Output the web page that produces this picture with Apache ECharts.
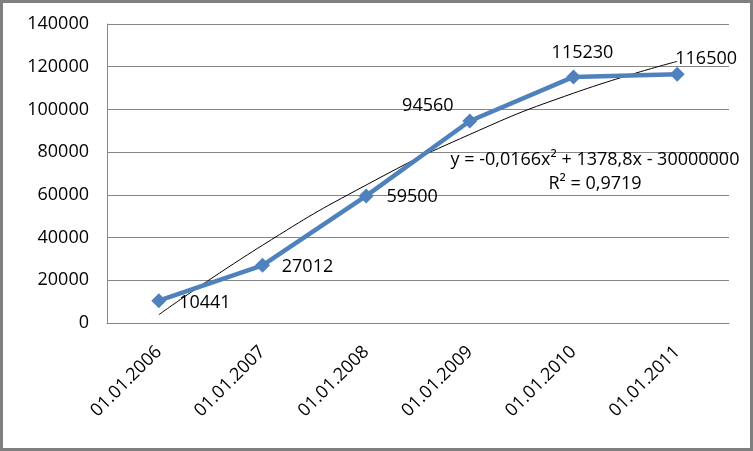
<!DOCTYPE html>
<html>
<head>
<meta charset="utf-8">
<script src="https://cdn.jsdelivr.net/npm/echarts@6/dist/echarts.min.js"></script>
<style>
html,body{margin:0;padding:0;background:#fff;}
#chart{width:753px;height:451px;}
</style>
</head>
<body>
<div id="chart"></div>
<script>
const categories = ['01.01.2006', '01.01.2007', '01.01.2008', '01.01.2009', '01.01.2010', '01.01.2011'];
const values = [10441, 27012, 59500, 94560, 115230, 116500];
// polynomial trend line values (at each category)
const trendValues = [3900, 36400, 64600, 88300, 107600, 122500];
const equationLines = ['y = -0,0166x² + 1378,8x - 30000000', 'R² = 0,9719'];

const FONT = '"Open Sans", sans-serif';
const labelOffsets = [[46, 2], [45, 2], [46, 1], [-42, -15], [9, -24], [29, -15]];

const chart = echarts.init(document.getElementById('chart'), null, {renderer: 'canvas'});
chart.setOption({
  animation: false,
  backgroundColor: '#ffffff',
  grid: {left: 107, right: 24, top: 24, bottom: 128, containLabel: false},
  xAxis: {
    type: 'category',
    data: categories,
    boundaryGap: true,
    axisLine: {show: true, lineStyle: {color: '#868686', width: 1}},
    axisTick: {show: false},
    axisLabel: {rotate: 45, color: '#000', fontFamily: FONT, fontSize: 18, margin: 26}
  },
  yAxis: {
    type: 'value',
    min: 0, max: 140000, interval: 20000,
    axisLine: {show: true, lineStyle: {color: '#868686', width: 1}},
    axisTick: {show: false},
    axisLabel: {color: '#000', fontFamily: FONT, fontSize: 18, margin: 18, formatter: v => String(v)},
    splitLine: {show: true, lineStyle: {color: '#868686', width: 1}}
  },
  series: [
    {
      type: 'line',
      data: trendValues,
      smooth: 0.5,
      symbol: 'none',
      lineStyle: {color: '#000', width: 1},
      z: 3,
      silent: true
    },
    {
      type: 'line',
      data: values.map((v, i) => ({
        value: v,
        label: {offset: labelOffsets[i]}
      })),
      symbol: 'diamond',
      symbolSize: 15,
      itemStyle: {color: '#4F81BD'},
      lineStyle: {color: '#4F81BD', width: 4.5},
      z: 4,
      label: {
        show: true,
        position: 'inside',
        color: '#000',
        fontFamily: FONT,
        fontSize: 18,
        formatter: p => String(p.value)
      }
    }
  ],
  graphic: [
    {
      type: 'rect',
      shape: {x: 1.5, y: 1.5, width: 750, height: 448},
      style: {fill: 'none', stroke: '#7f7f7f', lineWidth: 3},
      z: 100
    },
    {
      type: 'text',
      x: 595, y: 160,
      style: {text: equationLines[0], fill: '#000', font: '18px ' + FONT, textAlign: 'center', textVerticalAlign: 'middle'},
      z: 50
    },
    {
      type: 'text',
      x: 595, y: 184,
      style: {text: equationLines[1], fill: '#000', font: '18px ' + FONT, textAlign: 'center', textVerticalAlign: 'middle'},
      z: 50
    }
  ]
});
</script>
</body>
</html>
